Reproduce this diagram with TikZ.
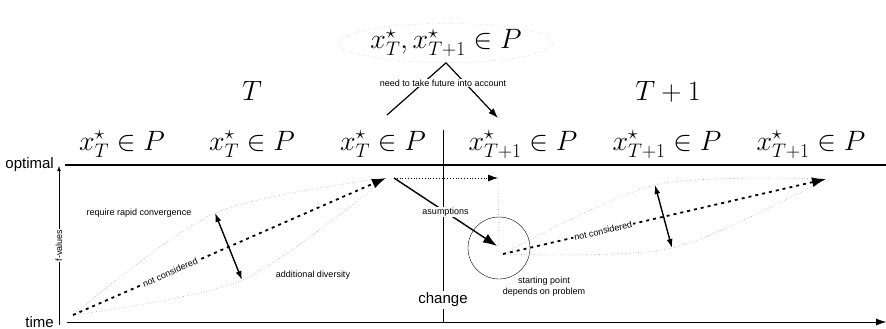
\documentclass[tikz,border=0pt]{standalone}
\usepackage{fix-cm}
\usepackage{amsmath}
\usepackage{fontspec}
\setsansfont{Liberation Sans}
\usepackage{tikz}
\usetikzlibrary{arrows.meta,positioning,calc,shapes.geometric}

\begin{document}
\begin{tikzpicture}[x=1pt,y=-1pt,>=Latex,
  lbl/.style={font=\sffamily\fontsize{9}{11}\selectfont,inner sep=1pt},
  axlbl/.style={font=\sffamily\fontsize{15}{16}\selectfont,inner sep=0pt},
  big/.style={font=\fontsize{28}{32}\selectfont,inner sep=0pt},
  lens/.style={gray!70,dotted,line width=0.6pt},
  trend/.style={line width=1.8pt,dash pattern=on 3pt off 4pt,-{Latex[length=14pt,width=10pt]}},
  spread/.style={line width=1.4pt,{Latex[length=9pt,width=6pt]}-{Latex[length=9pt,width=6pt]}},
  tip/.style={-{Latex[length=10pt,width=7pt]}}]
  \useasboundingbox (0,0) rectangle (886,329);

  % axes
  \node[axlbl,anchor=east] (opt) at (54,165) {optimal};
  \node[axlbl,anchor=base east] (time) at (54,327) {time};
  \coordinate (o0) at (59,325);
  \coordinate (o1) at (59,166);
  \coordinate (h0) at (67,322);
  \coordinate (h1) at (886,322);
  \draw[-{Latex[length=5pt,width=3.5pt]}] (o0) -- node[lbl,fill=white,rotate=90]{f-values} (o1);
  \draw[tip] (h0) -- (h1);
  \coordinate (top0) at (65,165);
  \coordinate (top1) at (886,165);
  \draw[line width=2.5pt] (top0) -- (top1);

  % time step change
  \coordinate (c0) at (443,130);
  \coordinate (c1) at (443,323);
  \draw (c0) -- (c1);
  \node[axlbl,fill=white,inner sep=2pt] (chg) at (443,300) {change};

  % optima per step
  \node[big,anchor=base] (a1) at (122,150) {$x_T^\star\in P$};
  \node[big,anchor=base] (a2) at (252,150) {$x_T^\star\in P$};
  \node[big,anchor=base] (a3) at (383,150) {$x_T^\star\in P$};
  \node[big,anchor=base] (b1) at (523,150) {$x_{T+1}^\star\in P$};
  \node[big,anchor=base] (b2) at (667,150) {$x_{T+1}^\star\in P$};
  \node[big,anchor=base] (b3) at (811,150) {$x_{T+1}^\star\in P$};
  \node[big,anchor=base] (stepT) at (252,100) {$T$};
  \node[big,anchor=base] (stepT1) at (668,100) {$T+1$};

  % both optima
  \node[big,ellipse,draw=gray!70,dotted,minimum width=200,minimum height=37] (both) at (446,43) {$x_T^\star,x_{T+1}^\star\in P$};
  \coordinate (fl) at (387,115);
  \coordinate (fr) at (498,118);
  \draw[line width=1.2pt] (both.south) -- (fl);
  \draw[line width=1.2pt,tip] (both.south) -- (fr);
  \node[lbl,fill=white] (future) at (443,83) {need to take future into account};

  % run before change
  \coordinate (s1) at (73,315);
  \coordinate (e1) at (386,178);
  \coordinate (u1) at (215,213);
  \coordinate (d1) at (242,280);
  \draw[lens] plot[smooth] coordinates {(s1) (u1) (e1)};
  \draw[lens] plot[smooth] coordinates {(s1) (d1) (e1)};
  \draw[trend] (s1) -- node[lbl,fill=white,sloped,pos=0.31]{not considered} (e1);
  \draw[spread] (u1) -- (d1);
  \node[lbl] (rapid) at (139,213) {require rapid convergence};
  \node[lbl] (div) at (313,275) {additional diversity};

  % restart
  \coordinate (jump) at (394,178);
  \coordinate (prev) at (498,178);
  \node[draw,circle,minimum size=62,inner sep=0pt] (start) at (499,248) {};
  \draw[dotted,line width=0.8pt,tip] (jump) -- (prev);
  \draw[lens] (prev) -- (start.center);
  \coordinate (land) at (497,246);
  \draw[line width=1.4pt,-{Latex[length=14pt,width=10pt]}] (jump) -- node[lbl,fill=white]{asumptions} (land);
  \node[lbl,align=center] (dep) at (544,287) {starting point\\depends on problem};

  % run after change
  \coordinate (s2) at (503,254);
  \coordinate (e2) at (826,179);
  \coordinate (u2) at (655,185);
  \coordinate (d2) at (672,248);
  \draw[lens] plot[smooth] coordinates {(s2) (u2) (e2)};
  \draw[lens] plot[smooth] coordinates {(s2) (d2) (e2)};
  \draw[trend] (s2) -- node[lbl,fill=white,sloped,pos=0.31]{not considered} (e2);
  \draw[spread] (u2) -- (d2);
\end{tikzpicture}
\end{document}
